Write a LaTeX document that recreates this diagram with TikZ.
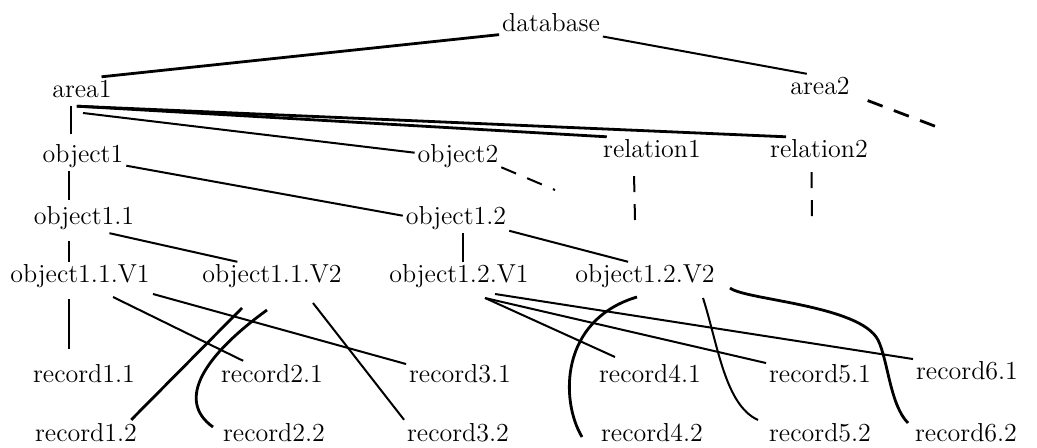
\documentclass[tikz,border=0pt]{standalone}
\usepackage{tikz}
\begin{document}
\begin{tikzpicture}[x=0.5pt, y=-0.5pt, line width=1pt,
    every node/.style={anchor=base, inner sep=1pt, text height=9.1pt, text depth=2.6pt,
      font=\fontsize{13}{15}\selectfont},
    dashlink/.style={dash pattern=on 8pt off 6pt},
    heavy/.style={line width=1.4pt}]
  \useasboundingbox (0,0) rectangle (1037,448);
  % the tree, level by level
  \node (database) at (551,32) {database};
  \node (area1) at (82,98) {area1};
  \node (area2) at (820,95) {area2};
  \node (object1) at (83,163) {object1};
  \node (object2) at (458,163) {object2};
  \node (relation1) at (652,158) {relation1};
  \node (relation2) at (819,158) {relation2};
  \node (object11) at (84,225) {object1.1};
  \node (object12) at (456,225) {object1.2};
  \node (object11V1) at (80,283) {object1.1.V1};
  \node (object11V2) at (272,283) {object1.1.V2};
  \node (object12V1) at (459,283) {object1.2.V1};
  \node (object12V2) at (645,283) {object1.2.V2};
  \node (record11) at (84,382) {record1.1};
  \node (record21) at (272,382) {record2.1};
  \node (record31) at (460,382) {record3.1};
  \node (record41) at (650,382) {record4.1};
  \node (record51) at (820,382) {record5.1};
  \node (record61) at (967,379) {record6.1};
  \node (record12) at (86,441) {record1.2};
  \node (record22) at (274,441) {record2.2};
  \node (record32) at (458,441) {record3.2};
  \node (record42) at (652,441) {record4.2};
  \node (record52) at (820,441) {record5.2};
  \node (record62) at (966,441) {record6.2};
  \coordinate (area2end) at (945,130);
  \coordinate (object2end) at (555,190);
  \coordinate (relation1end) at (635,220);
  \coordinate (relation2end) at (812,220);
  % upper levels
  \draw[heavy] (database.190) -- (area1.37);
  \draw (database.348) -- (area2.132);
  \draw[heavy, dashlink, shorten <=8pt] (area2.349) -- (area2end);
  \draw[shorten >=4pt] (area1.234) -- (area1.234 |- object1.north);
  \draw ([shift={(1,15)}]area1.base) -- (object2.175);
  \draw[heavy] (area1.252) -- (relation1.162);
  \draw[heavy] (area1.250) -- (relation2.156);
  \draw[dashlink] (object2.346) -- (object2end);
  \draw[dashlink, shorten <=5pt] (relation1.219) -- (relation1end);
  \draw[dashlink, shorten <=3pt] (relation2.243) -- (relation2end);
  \draw[shorten >=2pt] (object1.226) -- (object1.226 |- object11.north);
  \draw (object1.348) -- (object12.177);
  \draw[shorten <=4pt] (object11.224) -- (object11.224 |- object11V1.north);
  \draw (object11.330) -- (object11V2.157);
  \draw (object12.294) -- (object12.294 |- object12V1.north);
  \draw (object12.347) -- (object12V2.139);
  % versions to records
  \draw[shorten <=4pt, shorten >=6pt] (object11V1.234) -- (object11V1.234 |- record11.north);
  \draw ([shift={(33,14)}]object11V1.base) -- (record21.153);
  \draw ([shift={(73,11)}]object11V1.base) -- (record31.168);
  \draw[heavy] ([shift={(-30,25)}]object11V2.base) -- (record12.18);
  \draw[heavy] ([shift={(-5,27)}]object11V2.base) .. controls +(-62,45) and +(-38,-27) .. ([shift={(-61,-14)}]record22.base);
  \draw ([shift={(41,20)}]object11V2.base) -- (record32.north west);
  \draw ([shift={(26,15)}]object12V1.base) -- ([shift={(-35,-25)}]record41.base);
  \draw ([shift={(26,15)}]object12V1.base) -- (record51.167);
  \draw ([shift={(36,11)}]object12V1.base) -- (record61.166);
  \draw[heavy] ([shift={(-8,14)}]object12V2.base) .. controls +(-77,23) and +(-22,-37) .. ([shift={(-70,-4)}]record42.base);
  \draw ([shift={(58,15)}]object12V2.base) .. controls +(15,47) and +(-33,-15) .. ([shift={(-62,-21)}]record52.base);
  \draw[heavy] ([shift={(85,5)}]object12V2.base) .. controls +(15,12) and +(-18,-35) .. ++(148,52)
    .. controls +(10,20) and +(-18,-18) .. ([shift={(-58,-18)}]record62.base);
\end{tikzpicture}
\end{document}
